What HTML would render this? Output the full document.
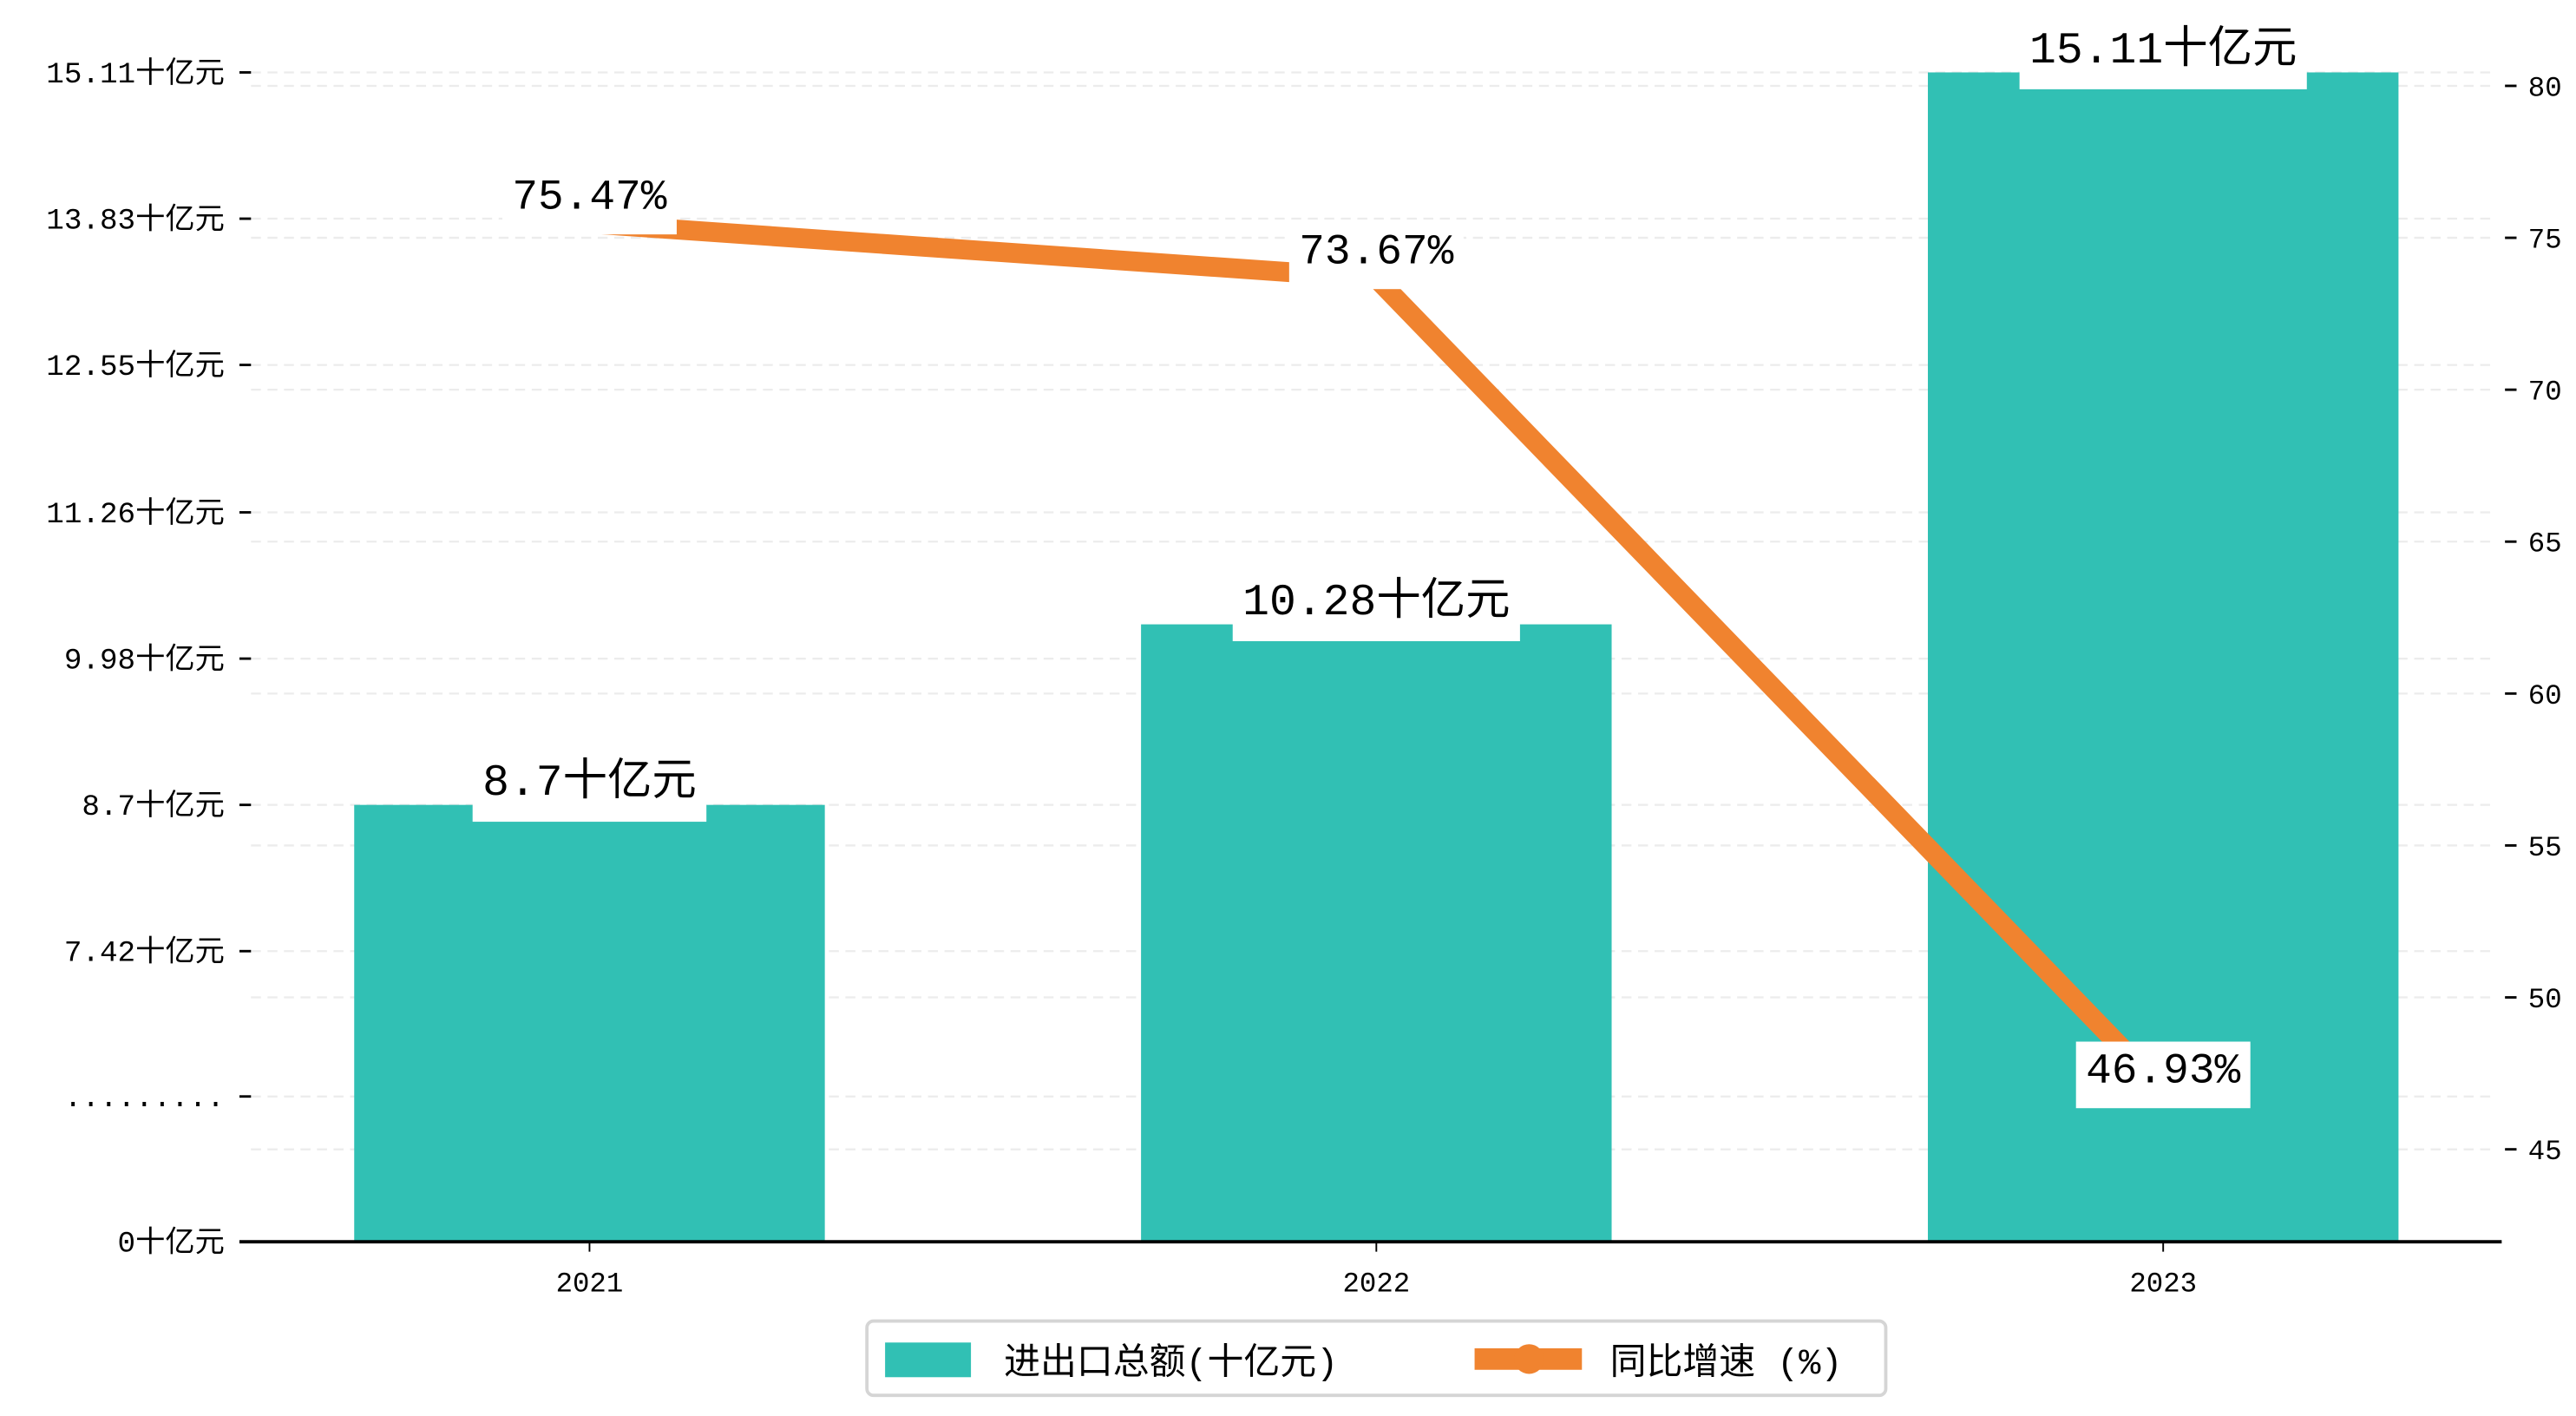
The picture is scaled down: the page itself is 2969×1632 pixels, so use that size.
<!DOCTYPE html>
<html><head><meta charset="utf-8">
<style>
html,body{margin:0;padding:0;background:#fff;}
svg{display:block;}
text{font-family:"Liberation Mono","Noto Sans CJK SC",monospace;fill:#000;}
</style></head>
<body>
<svg id="chart" width="2969" height="1632" viewBox="0 0 1560 857.5" xmlns="http://www.w3.org/2000/svg">
<g id="grid"></g>
<g id="bars"></g>
<g id="line"></g>
<g id="labels"></g>
<g id="axes"></g>
<g>
  <rect x="525" y="800" width="617" height="45" rx="4" fill="#fff" stroke="#d5d5d5" stroke-width="2"/>
  <rect x="536" y="813" width="52" height="21" fill="#31c0b4"/>
  <text x="608" y="832" font-size="22">进出口总额(十亿元)</text>
  <line x1="893" y1="823" x2="958" y2="823" stroke="#f0832f" stroke-width="13"/>
  <circle cx="926" cy="823" r="9" fill="#f0832f"/>
  <text x="975" y="832" font-size="22">同比增速 (%)</text>
</g>
</svg>
<script>
const categories = ['2021','2022','2023'];
const barValues = [8.7, 10.28, 15.11];
const growthValues = [75.47, 73.67, 46.93];
const leftTickValues = [7.42, 8.7, 9.98, 11.26, 12.55, 13.83, 15.11];
const leftTickLabels = ['7.42十亿元','8.7十亿元','9.98十亿元','11.26十亿元','12.55十亿元','13.83十亿元','15.11十亿元'];
const rightTicks = [45, 50, 55, 60, 65, 70, 75, 80];

const NS = 'http://www.w3.org/2000/svg';
const X0 = 145, X1 = 1515, BASE = 752;
function mk(tag, attrs, parent, txt){
  const e = document.createElementNS(NS, tag);
  for (const k in attrs) e.setAttribute(k, attrs[k]);
  if (txt !== undefined) e.textContent = txt;
  parent.appendChild(e);
  return e;
}
function yL(v){ return v <= 0 ? BASE : 576 - (v - 7.42) * 69.2; }
function yR(v){ return 696 - (v - 45) * 18.4; }
function xC(i){ return 357 + i * 476.5; }

const grid = document.getElementById('grid');
const axes = document.getElementById('axes');
const bars = document.getElementById('bars');
const line = document.getElementById('line');
const labels = document.getElementById('labels');

function gridLine(y){
  const g = mk('line', {x1:152, x2:1512, y1:y, y2:y, stroke:'#ececec', 'stroke-width':1.2, 'stroke-dasharray':'6,4'}, grid);
  
  
}
leftTickValues.forEach(v => gridLine(yL(v)));
gridLine(664); gridLine(696);
rightTicks.forEach(v => gridLine(yR(v)));

function leftTick(y, label){
  const t = mk('line', {x1:145, x2:152, y1:y, y2:y, stroke:'#000', 'stroke-width':1.5}, axes);
  
  
  const tx = mk('text', {x:136, y:y+6, 'font-size':18, 'text-anchor':'end'}, axes, label);
  
  
}
leftTickValues.forEach((v, i) => leftTick(yL(v), leftTickLabels[i]));
leftTick(664, '.........');
leftTick(BASE, '0十亿元');

rightTicks.forEach(v => {
  const y = yR(v);
  const t = mk('line', {x1:1517, x2:1524, y1:y, y2:y, stroke:'#000', 'stroke-width':1.5}, axes);
  
  
  const tx = mk('text', {x:1531, y:y+6, 'font-size':17}, axes, String(v));
  
  
});

categories.forEach((c, i) => {
  const y = yL(barValues[i]);
  const b = mk('rect', {x:xC(i)-142.5, y:y, width:285, height:BASE-y, fill:'#31c0b4'}, bars);
  
  
  const tk = mk('line', {x1:xC(i), x2:xC(i), y1:BASE, y2:BASE+6, stroke:'#000', 'stroke-width':1}, axes);
  
  
  const tl = mk('text', {x:xC(i), y:782, 'font-size':17, 'text-anchor':'middle'}, axes, c);
  
  
});
const xa = mk('line', {x1:X0, x2:X1, y1:BASE, y2:BASE, stroke:'#000', 'stroke-width':2}, axes);



const pts = growthValues.map((v, i) => xC(i) + ',' + yR(v)).join(' ');
const pl = mk('polyline', {points:pts, fill:'none', stroke:'#f0832f', 'stroke-width':12}, line);



function boxLabel(x, y, txt, size, name){
  let w = 0;
  for (const ch of txt) w += ch.charCodeAt(0) > 255 ? size : size * 0.6;
  w += 12;
  const r = mk('rect', {x:x-w/2, y:y-size*0.95, width:w, height:size*1.55, fill:'#fff'}, labels);
  
  
  const t = mk('text', {x:x, y:y, 'font-size':size, 'text-anchor':'middle'}, labels, txt);
  
  
}
categories.forEach((c, i) => {
  boxLabel(xC(i), yL(barValues[i]) - 6, barValues[i] + '十亿元', 27, 'bar-label-' + c);
});
categories.forEach((c, i) => {
  const y = i === 2 ? yR(growthValues[i]) - 5 : yR(growthValues[i]) - 9;
  boxLabel(xC(i), y, growthValues[i].toFixed(2) + '%', 26, 'growth-label-' + c);
});
</script>
</body></html>
